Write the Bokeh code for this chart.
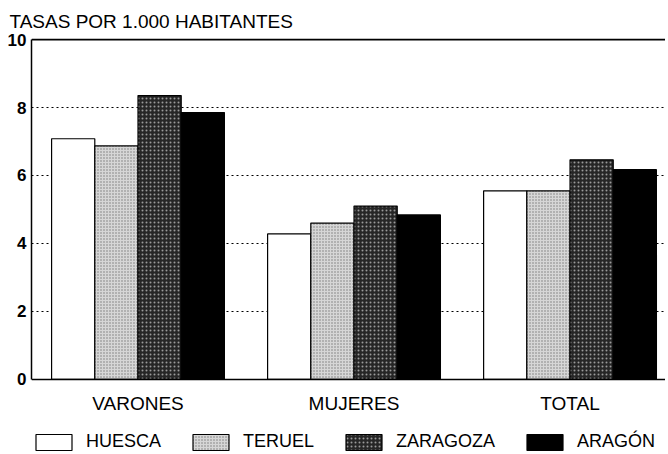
from bokeh.plotting import figure
from bokeh.models import FixedTicker, Legend, LegendItem, Span, Range1d
from bokeh.core.properties import value
from bokeh.embed import file_html
from bokeh.resources import INLINE

categories = ["VARONES", "MUJERES", "TOTAL"]
regions = ["HUESCA", "TERUEL", "ZARAGOZA", "ARAGÓN"]
huesca = [7.08, 4.28, 5.55]
teruel = [6.87, 4.60, 5.55]
zaragoza = [8.35, 5.10, 6.46]
aragon = [7.85, 4.84, 6.17]
y_ticks = [0, 2, 4, 6, 8, 10]

series = [huesca, teruel, zaragoza, aragon]
styles = [
    dict(fill_color="white"),
    dict(fill_color="#d6d6d6", hatch_pattern="dot", hatch_color="#7a7a7a", hatch_scale=3, hatch_weight=1),
    dict(fill_color="#262626", hatch_pattern="dot", hatch_color="#9a9a9a", hatch_scale=4, hatch_weight=1),
    dict(fill_color="black"),
]

FONT = "Liberation Sans"
BAR_W = 0.2

p = figure(frame_width=634, frame_height=414, output_backend="svg", toolbar_location=None,
           x_range=Range1d(-0.493, 2.442), y_range=Range1d(-2.15, 10.03),
           x_axis_location=None,
           min_border_left=31, min_border_right=0, min_border_top=38, min_border_bottom=0)
p.outline_line_color = None

p.title.text = "TASAS POR 1.000 HABITANTES"
p.title.text_font = FONT
p.title.text_font_size = "19px"
p.title.text_font_style = "normal"
p.title.text_color = "black"
p.title.align = "left"
p.title.offset = -22
p.title.standoff = 14

items = []
for i, (vals, st) in enumerate(zip(series, styles)):
    xs = [g + (i - 1.5) * BAR_W for g in range(len(categories))]
    r = p.vbar(x=xs, top=vals, bottom=0, width=BAR_W, line_color="black", line_width=1.2, **st)
    items.append(LegendItem(label=regions[i], renderers=[r]))

# category labels under the baseline
p.text(x=list(range(len(categories))), y=[0] * len(categories), text=categories,
       y_offset=14, text_align="center", text_baseline="top",
       text_font=value(FONT), text_font_size="19px", text_color="black")

p.yaxis.ticker = FixedTicker(ticks=y_ticks)
p.yaxis.bounds = (0, 10)
p.yaxis.major_tick_out = 0
p.yaxis.major_tick_in = 0
p.yaxis.minor_tick_out = 0
p.yaxis.minor_tick_in = 0
p.yaxis.major_label_standoff = 5
p.yaxis.major_label_text_font = FONT
p.yaxis.major_label_text_font_size = "17px"
p.yaxis.major_label_text_font_style = "bold"
p.yaxis.major_label_text_color = "black"
p.yaxis.axis_line_width = 1.5
p.yaxis.axis_line_color = "black"

p.xgrid.grid_line_color = None
p.ygrid.ticker = FixedTicker(ticks=[2, 4, 6, 8])
p.ygrid.grid_line_color = "black"
p.ygrid.grid_line_dash = "2 3"
p.ygrid.grid_line_width = 1

p.add_layout(Span(location=10, dimension="width", line_color="black", line_width=2))
p.add_layout(Span(location=0, dimension="width", line_color="black", line_width=1.5))

legend = Legend(items=items, orientation="horizontal", location=(0, 0),
                glyph_width=45, glyph_height=20, label_height=20, label_standoff=10,
                spacing=27, padding=0, margin=0, border_line_color=None,
                background_fill_alpha=0,
                label_text_font=FONT, label_text_font_size="18px", label_text_color="black")
p.add_layout(legend, "center")

open("out.html", "w").write(file_html(p, INLINE))
